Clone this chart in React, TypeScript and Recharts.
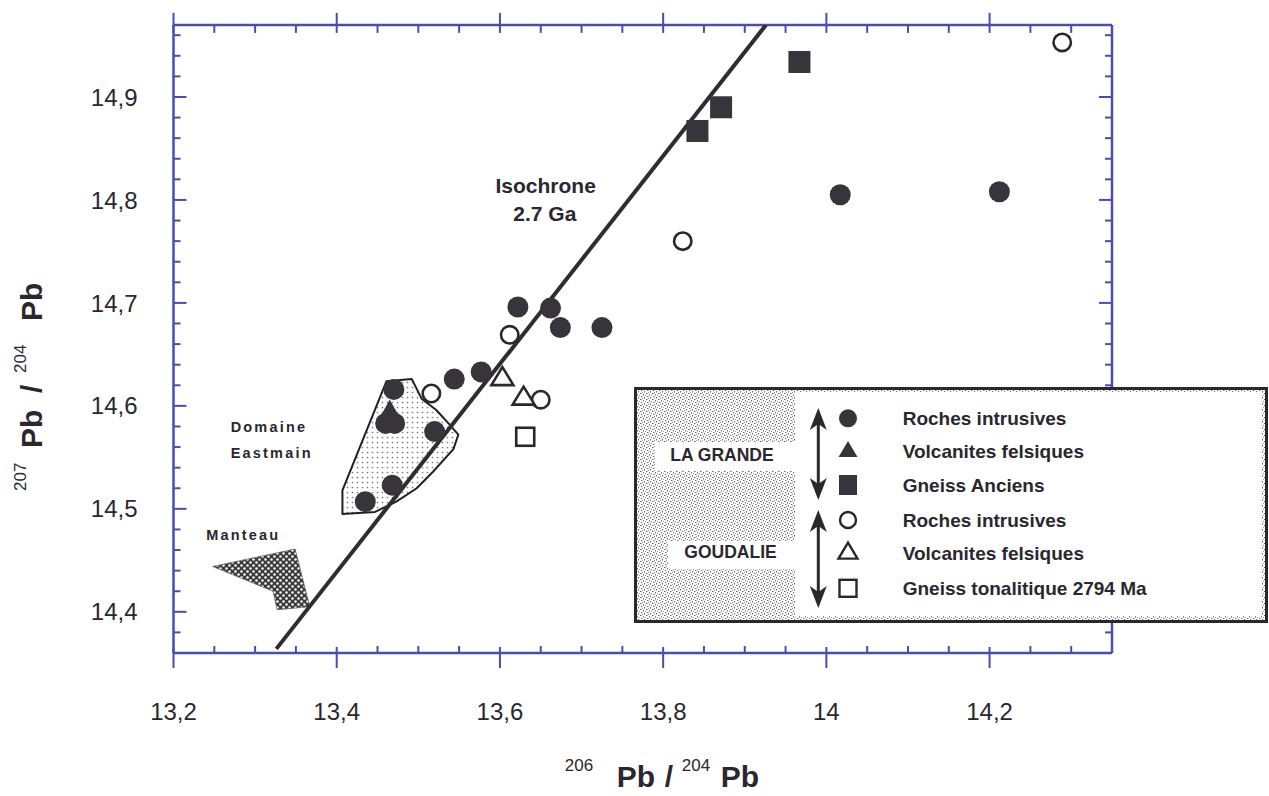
import React from "react";
import { ScatterChart, Scatter, XAxis, YAxis } from "recharts";

const FONT = "'Liberation Sans', Arial, Helvetica, sans-serif";
const AXIS = "#4b4cb0";
const INK = "#2a272e";
const MARK = "#38343c";

// axes
const X_DOMAIN = [13.2, 14.35];
const Y_DOMAIN = [14.36, 14.97];
const xMajorTicks = [13.2, 13.4, 13.6, 13.8, 14, 14.2];
const yMajorTicks = [14.4, 14.5, 14.6, 14.7, 14.8, 14.9];

// La Grande (filled symbols)
const laGrandeIntrusives = [
  [14.017, 14.805], [14.212, 14.808], [13.622, 14.696], [13.662, 14.695],
  [13.674, 14.676], [13.725, 14.676], [13.577, 14.633], [13.544, 14.626],
  [13.47, 14.616], [13.46, 14.583], [13.471, 14.583], [13.52, 14.575],
  [13.468, 14.523], [13.435, 14.507],
];
const laGrandeVolcanites = [[13.465, 14.594]];
const laGrandeGneiss = [[13.967, 14.934], [13.871, 14.89], [13.842, 14.867]];

// Goudalie (open symbols)
const goudalieIntrusives = [
  [13.612, 14.669], [13.516, 14.612], [13.65, 14.606], [13.824, 14.76], [14.289, 14.953],
];
const goudalieVolcanites = [[13.603, 14.626], [13.629, 14.607]];
const goudalieGneiss = [[13.631, 14.57]];

// isochrone 2.7 Ga
const isochrone = [[13.326, 14.364], [13.926, 14.97]];

// outlined fields
const eastmainField = [
  [13.461, 14.624], [13.492, 14.626], [13.504, 14.607], [13.522, 14.596],
  [13.537, 14.583], [13.549, 14.572], [13.543, 14.558], [13.518, 14.536],
  [13.498, 14.52], [13.473, 14.507], [13.447, 14.497], [13.407, 14.495],
  [13.407, 14.518],
];
const manteauField = [
  [13.248, 14.444], [13.349, 14.461], [13.367, 14.405], [13.327, 14.402], [13.322, 14.42],
];

const isochroneText = [
  { x: 13.656, y: 14.8145, text: "Isochrone" },
  { x: 13.655, y: 14.787, text: "2.7 Ga" },
];
const eastmainText = [
  { x: 13.27, y: 14.5795, text: "Domaine" },
  { x: 13.27, y: 14.5545, text: "Eastmain" },
];
const manteauText = [{ x: 13.24, y: 14.4745, text: "Manteau" }];

const legendRows = [
  { label: "Roches intrusives", symbol: "filledCircle" },
  { label: "Volcanites felsiques", symbol: "filledTriangle" },
  { label: "Gneiss Anciens", symbol: "filledSquare" },
  { label: "Roches intrusives", symbol: "openCircle" },
  { label: "Volcanites felsiques", symbol: "openTriangle" },
  { label: "Gneiss tonalitique 2794 Ma", symbol: "openSquare" },
];

const steps = (from: number, to: number, step: number) => {
  const n = Math.round((to - from) / step);
  return Array.from({ length: n + 1 }, (_, i) => Math.round((from + i * step) * 1000) / 1000);
};
const xTicks = steps(13.2, 14.3, 0.05);
const yTicks = steps(14.36, 14.96, 0.02);

const pts = (a: number[][]) => a.map(([x, y]) => ({ x, y }));
const isMajor = (v: number, majors: number[]) => majors.some((m) => Math.abs(m - v) < 1e-6);
const fmt = (v: number) => String(v).replace(".", ",");

const tri = (cx: number, cy: number, w: number, h: number) =>
  `M${cx},${cy - (h * 2) / 3} L${cx + w / 2},${cy + h / 3} L${cx - w / 2},${cy + h / 3} Z`;

const FilledCircle = (p: any) => <circle cx={p.cx} cy={p.cy} r={10.5} fill={MARK} />;
const FilledSquare = (p: any) => <rect x={p.cx - 11} y={p.cy - 11} width={22} height={22} fill={MARK} />;
const FilledTriangle = (p: any) => <path d={tri(p.cx, p.cy, 21, 19)} fill={MARK} />;
const OpenCircle = (p: any) => (
  <circle cx={p.cx} cy={p.cy} r={8.7} fill="#fff" stroke={INK} strokeWidth={2.6} />
);
const OpenTriangle = (p: any) => (
  <path d={tri(p.cx, p.cy, 22, 18)} fill="#fff" stroke={INK} strokeWidth={2.6} strokeLinejoin="miter" />
);
const OpenSquare = (p: any) => (
  <rect x={p.cx - 9} y={p.cy - 9} width={18} height={18} fill="#fff" stroke={INK} strokeWidth={2.6} />
);
const NoMark = () => <g />;

const textShape = (size: number, anchor: string, spacing: number) => (p: any) => (
  <text
    x={p.cx}
    y={p.cy}
    textAnchor={anchor}
    dominantBaseline="central"
    fontFamily={FONT}
    fontWeight={700}
    fontSize={size}
    letterSpacing={spacing}
    fill={INK}
  >
    {p.payload.text}
  </text>
);

const polygon = (fill: string, stroke: string, width: number) => (p: any) => {
  const list = p.points || [];
  if (!list.length) return <g />;
  const d = list.map((q: any, i: number) => `${i ? "L" : "M"}${q.x},${q.y}`).join(" ") + " Z";
  return <path d={d} fill={fill} stroke={stroke} strokeWidth={width} strokeLinejoin="round" />;
};

const BottomTick = (props: any) => {
  const { x, y, payload } = props;
  const major = isMajor(payload.value, xMajorTicks);
  return (
    <g>
      <line x1={x} x2={x} y1={major ? y - 6 : y - 7} y2={major ? y + 15 : y} stroke={AXIS} strokeWidth={2} />
      {major && (
        <text x={x} y={y + 67} textAnchor="middle" fontFamily={FONT} fontSize={24} fill={INK}>
          {fmt(payload.value)}
        </text>
      )}
    </g>
  );
};

const TopTick = (props: any) => {
  const { x, y, payload } = props;
  const major = isMajor(payload.value, xMajorTicks);
  return <line x1={x} x2={x} y1={major ? y - 12 : y} y2={y + 8} stroke={AXIS} strokeWidth={2} />;
};

const LeftTick = (props: any) => {
  const { x, y, payload } = props;
  const major = isMajor(payload.value, yMajorTicks);
  return (
    <g>
      <line x1={x} x2={x + (major ? 13 : 7)} y1={y} y2={y} stroke={AXIS} strokeWidth={2} />
      {major && (
        <text x={x - 36} y={y + 8.6} textAnchor="end" fontFamily={FONT} fontSize={24} fill={INK}>
          {fmt(payload.value)}
        </text>
      )}
    </g>
  );
};

const RightTick = (props: any) => {
  const { x, y, payload } = props;
  const major = isMajor(payload.value, yMajorTicks);
  return <line x1={x - (major ? 13 : 7)} x2={x} y1={y} y2={y} stroke={AXIS} strokeWidth={2} />;
};

// 206Pb/204Pb style title: superscript, Pb, slash, superscript, Pb
const TitleText = ({ x, y, a, b, at }: any) => {
  const pieces = [
    { t: a, sup: true },
    { t: "Pb", sup: false },
    { t: "/", sup: false },
    { t: b, sup: true },
    { t: "Pb", sup: false },
  ];
  return (
    <g>
      {pieces.map((p, i) => (
        <text
          key={i}
          x={x + at[i]}
          y={p.sup ? y - 16 : y}
          fontFamily={FONT}
          fontWeight={p.sup ? 400 : 700}
          fontSize={p.sup ? 17 : 30}
          fill={INK}
        >
          {p.t}
        </text>
      ))}
    </g>
  );
};

const XTitle = (props: any) => {
  const vb = props.viewBox;
  return <TitleText x={vb.x + vb.width / 2 - 78} y={vb.y + 134} a="206" b="204" at={[0, 52, 100, 117, 156]} />;
};

const YTitle = (props: any) => {
  const vb = props.viewBox;
  const cx = vb.x - 51;
  const cy = vb.y + vb.height / 2 + 40;
  return (
    <g transform={`rotate(-90 ${cx} ${cy})`}>
      <TitleText x={cx - 112} y={cy} a="207" b="204" at={[0, 43, 98, 118, 170]} />
    </g>
  );
};

const LegendSymbol = ({ kind, cx, cy }: any) => {
  switch (kind) {
    case "filledCircle":
      return <circle cx={cx} cy={cy} r={9} fill={MARK} />;
    case "filledTriangle":
      return <path d={tri(cx, cy, 19, 16)} fill={MARK} />;
    case "filledSquare":
      return <rect x={cx - 9} y={cy - 10} width={18} height={20} fill={MARK} />;
    case "openCircle":
      return <circle cx={cx} cy={cy} r={8} fill="#fff" stroke={INK} strokeWidth={2.4} />;
    case "openTriangle":
      return <path d={tri(cx, cy, 19, 16)} fill="#fff" stroke={INK} strokeWidth={2.4} />;
    default:
      return <rect x={cx - 8.5} y={cy - 8.5} width={17} height={17} fill="#fff" stroke={INK} strokeWidth={2.4} />;
  }
};

const DoubleArrow = ({ x, top, bottom }: any) => (
  <g fill={INK} stroke="none">
    <line x1={x} x2={x} y1={top + 10} y2={bottom - 10} stroke={INK} strokeWidth={3} />
    <path d={`M${x},${top} L${x + 8.5},${top + 22} L${x},${top + 16} L${x - 8.5},${top + 22} Z`} />
    <path d={`M${x},${bottom} L${x + 8.5},${bottom - 22} L${x},${bottom - 16} L${x - 8.5},${bottom - 22} Z`} />
  </g>
);

const GroupLegend = () => {
  const rowY = [31.3, 64.7, 98, 133, 166.3, 201.3];
  return (
    <svg width={636} height={237} style={{ position: "absolute", left: 634, top: 387, zIndex: 2 }}>
      <rect x={1.5} y={1.5} width={631} height={233} fill="url(#legendStipple)" stroke={INK} strokeWidth={3} />
      <rect x={161} y={5} width={467} height={224} fill="#fff" />
      <rect x={21} y={55} width={141} height={29} fill="#fff" />
      <rect x={34} y={154} width={128} height={28} fill="#fff" />
      <text x={88} y={68} textAnchor="middle" dominantBaseline="central" fontFamily={FONT} fontWeight={700} fontSize={17.5} fill={INK}>
        LA GRANDE
      </text>
      <text x={96.5} y={165} textAnchor="middle" dominantBaseline="central" fontFamily={FONT} fontWeight={700} fontSize={17.5} fill={INK}>
        GOUDALIE
      </text>
      <DoubleArrow x={184.3} top={21} bottom={113} />
      <DoubleArrow x={184.3} top={123} bottom={221} />
      {legendRows.map((r, i) => (
        <g key={i}>
          <LegendSymbol kind={r.symbol} cx={214} cy={rowY[i]} />
          <text x={268.7} y={rowY[i]} dominantBaseline="central" fontFamily={FONT} fontWeight={700} fontSize={19} fill={INK}>
            {r.label}
          </text>
        </g>
      ))}
    </svg>
  );
};

const Patterns = () => (
  <svg width={0} height={0} style={{ position: "absolute" }}>
    <defs>
      <pattern id="eastmainDots" width={5} height={5} patternUnits="userSpaceOnUse">
        <rect width={5} height={5} fill="#fff" />
        <circle cx={2.5} cy={2.5} r={0.85} fill="#777" />
      </pattern>
      <pattern id="manteauStipple" width={6} height={6} patternUnits="userSpaceOnUse">
        <rect width={6} height={6} fill="#3a3a3a" />
        <circle cx={1.5} cy={1.5} r={1.3} fill="#fff" />
        <circle cx={4.5} cy={4.5} r={1.3} fill="#fff" />
      </pattern>
      <pattern id="legendStipple" width={6} height={6} patternUnits="userSpaceOnUse">
        <rect width={6} height={6} fill="#fff" />
        <rect x={0} y={0} width={1.5} height={1} fill="#666" />
        <rect x={3} y={1} width={1} height={1.5} fill="#777" />
        <rect x={1} y={3} width={1.5} height={1} fill="#777" />
        <rect x={4} y={4} width={1} height={1.5} fill="#666" />
        <rect x={5} y={2} width={1} height={1} fill="#999" />
        <rect x={2} y={5} width={1} height={1} fill="#999" />
      </pattern>
    </defs>
  </svg>
);

export default function App() {
  return (
    <div style={{ position: "absolute", left: 0, top: 0, width: 1269, height: 796, background: "#fff", fontFamily: FONT }}>
      <Patterns />
      <ScatterChart width={1269} height={796} margin={{ top: 14.9, right: 137, bottom: 83, left: 93.5 }}>
        <XAxis
          type="number"
          dataKey="x"
          domain={X_DOMAIN}
          ticks={xTicks}
          interval={0}
          allowDataOverflow
          tickSize={0}
          tickMargin={0}
          tickLine={false}
          axisLine={{ stroke: AXIS, strokeWidth: 2.5 }}
          tick={<BottomTick />}
          height={60}
          label={XTitle}
        />
        <XAxis
          xAxisId="top"
          orientation="top"
          type="number"
          dataKey="x"
          domain={X_DOMAIN}
          ticks={xTicks}
          interval={0}
          allowDataOverflow
          tickSize={0}
          tickMargin={0}
          tickLine={false}
          axisLine={{ stroke: AXIS, strokeWidth: 2.5 }}
          tick={<TopTick />}
          height={10}
        />
        <YAxis
          type="number"
          dataKey="y"
          domain={Y_DOMAIN}
          ticks={yTicks}
          interval={0}
          allowDataOverflow
          tickSize={0}
          tickMargin={0}
          tickLine={false}
          axisLine={{ stroke: AXIS, strokeWidth: 2.5 }}
          tick={<LeftTick />}
          width={80}
          label={YTitle}
        />
        <YAxis
          yAxisId="right"
          orientation="right"
          type="number"
          dataKey="y"
          domain={Y_DOMAIN}
          ticks={yTicks}
          interval={0}
          allowDataOverflow
          tickSize={0}
          tickMargin={0}
          tickLine={false}
          axisLine={{ stroke: AXIS, strokeWidth: 2.5 }}
          tick={<RightTick />}
          width={20}
        />
        <Scatter
          name="Manteau"
          data={pts(manteauField)}
          line={polygon("url(#manteauStipple)", "#666", 0.8)}
          shape={NoMark}
          isAnimationActive={false}
        />
        <Scatter
          name="Domaine Eastmain"
          data={pts(eastmainField)}
          line={polygon("url(#eastmainDots)", "#222", 2)}
          shape={NoMark}
          isAnimationActive={false}
        />
        <Scatter
          name="Isochrone 2.7 Ga"
          data={pts(isochrone)}
          line={{ stroke: "#2e2e2e", strokeWidth: 4 }}
          shape={NoMark}
          isAnimationActive={false}
        />
        <Scatter name="La Grande intrusives" data={pts(laGrandeIntrusives)} shape={FilledCircle} isAnimationActive={false} />
        <Scatter name="La Grande volcanites" data={pts(laGrandeVolcanites)} shape={FilledTriangle} isAnimationActive={false} />
        <Scatter name="La Grande gneiss" data={pts(laGrandeGneiss)} shape={FilledSquare} isAnimationActive={false} />
        <Scatter name="Goudalie intrusives" data={pts(goudalieIntrusives)} shape={OpenCircle} isAnimationActive={false} />
        <Scatter name="Goudalie volcanites" data={pts(goudalieVolcanites)} shape={OpenTriangle} isAnimationActive={false} />
        <Scatter name="Goudalie gneiss" data={pts(goudalieGneiss)} shape={OpenSquare} isAnimationActive={false} />
        <Scatter data={isochroneText} shape={textShape(21, "middle", 0)} isAnimationActive={false} />
        <Scatter data={eastmainText} shape={textShape(14.5, "start", 2.2)} isAnimationActive={false} />
        <Scatter data={manteauText} shape={textShape(14.5, "start", 2.2)} isAnimationActive={false} />
      </ScatterChart>
      <GroupLegend />
    </div>
  );
}
